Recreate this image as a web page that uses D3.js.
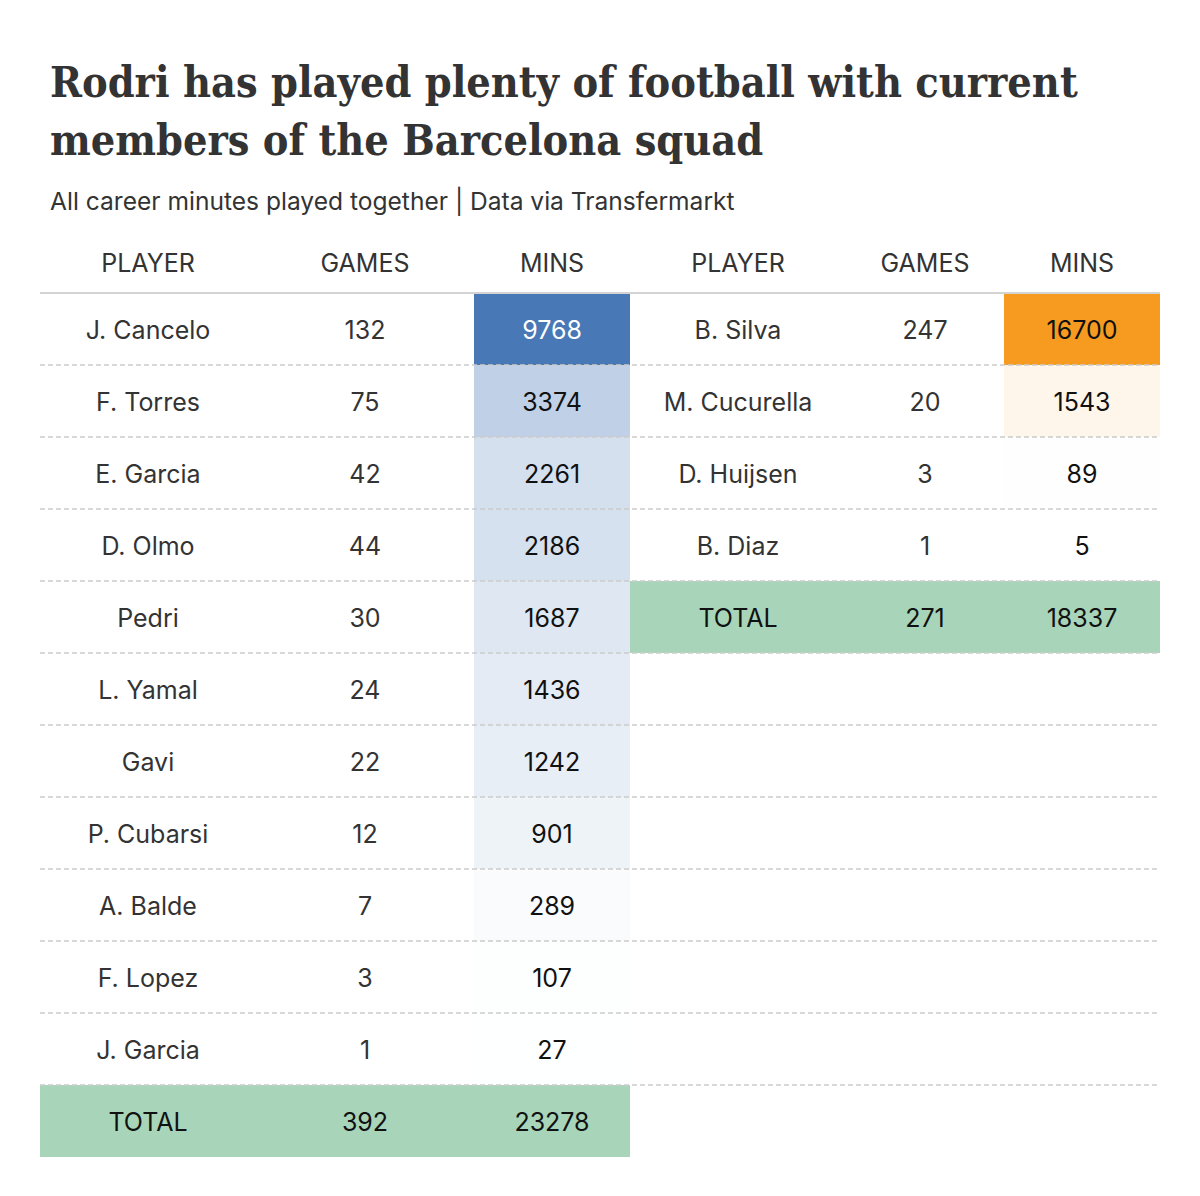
<!DOCTYPE html>
<html>
<head>
<meta charset="utf-8">
<script src="https://cdn.jsdelivr.net/npm/d3@7"></script>
<style>
  body { margin: 0; background: #fff; }
  svg { display: block; }
</style>
</head>
<body>
<div id="chart"></div>
<script>
  // left block (Barcelona players with Rodri at Atletico/Spain/City)
  const leftPlayers = ["J. Cancelo", "F. Torres", "E. Garcia", "D. Olmo", "Pedri", "L. Yamal", "Gavi", "P. Cubarsi", "A. Balde", "F. Lopez", "J. Garcia"];
  const leftGames = [132, 75, 42, 44, 30, 24, 22, 12, 7, 3, 1];
  const leftMins = [9768, 3374, 2261, 2186, 1687, 1436, 1242, 901, 289, 107, 27];

  // right block
  const rightPlayers = ["B. Silva", "M. Cucurella", "D. Huijsen", "B. Diaz"];
  const rightGames = [247, 20, 3, 1];
  const rightMins = [16700, 1543, 89, 5];

  const headers = ["PLAYER", "GAMES", "MINS", "PLAYER", "GAMES", "MINS"];

  const width = 1200;
  const height = 1196;
  const colEdges = [40, 256, 474, 630, 846, 1004, 1160];
  const tableTop = 293;
  const rowH = 72;
  const nRows = leftPlayers.length + 1;

  const font = "Inter, 'Noto Sans', sans-serif";
  const titleFont = "'DejaVu Serif Condensed', 'DejaVu Serif', serif";
  const totalFill = "#a8d5b9";

  const y = d3.scaleBand()
    .domain(d3.range(nRows))
    .range([tableTop, tableTop + nRows * rowH]);

  const leftColor = d3.scaleLinear()
    .domain([0, d3.max(leftMins)])
    .range(["#ffffff", "#4878b6"]);
  const rightColor = d3.scaleLinear()
    .domain([0, d3.max(rightMins)])
    .range(["#ffffff", "#f79b20"]);

  const leftRows = leftPlayers.map((p, i) => ({ player: p, games: leftGames[i], mins: leftMins[i] }));
  leftRows.push({ player: "TOTAL", games: d3.sum(leftGames), mins: d3.sum(leftMins), total: true });
  const rightRows = rightPlayers.map((p, i) => ({ player: p, games: rightGames[i], mins: rightMins[i] }));
  rightRows.push({ player: "TOTAL", games: d3.sum(rightGames), mins: d3.sum(rightMins), total: true });

  const svg = d3.select("#chart")
    .append("svg")
    .attr("width", width)
    .attr("height", height);

  // title
  const title = svg.append("g");
  const titleLines = ["Rodri has played plenty of football with current", "members of the Barcelona squad"];
  const t1 = title.append("text")
    .attr("x", 50).attr("y", 97)
    .attr("font-family", titleFont)
    .attr("font-stretch", "condensed")
    .attr("font-weight", "bold")
    .attr("font-size", 42)
    .attr("fill", "#333")
    .text(titleLines[0]);
  // fit the first line to the reference width
  const fs = 42 * 1028 / t1.node().getComputedTextLength();
  t1.attr("font-size", fs);
  title.append("text")
    .attr("x", 50).attr("y", 155)
    .attr("font-family", titleFont)
    .attr("font-stretch", "condensed")
    .attr("font-weight", "bold")
    .attr("font-size", fs)
    .attr("fill", "#333")
    .text(titleLines[1]);

  const sub = svg.append("text")
    .attr("x", 50).attr("y", 210)
    .attr("font-family", font)
    .attr("font-size", 24)
    .attr("fill", "#333")
    .text("All career minutes played together | Data via Transfermarkt");
  sub.attr("font-size", 24 * 685 / sub.node().getComputedTextLength());

  // headers
  svg.append("g")
    .selectAll("text")
    .data(headers)
    .join("text")
    .attr("x", (d, i) => (colEdges[i] + colEdges[i + 1]) / 2)
    .attr("y", 263)
    .attr("dominant-baseline", "central")
    .attr("text-anchor", "middle")
    .attr("font-family", font)
    .attr("font-size", 25)
    .attr("fill", "#333")
    .text(d => d);

  const fills = svg.append("g");
  const lines = svg.append("g");
  const cells = svg.append("g");

  function drawBlock(rows, c0, color, maxText) {
    const x0 = colEdges[c0], x3 = colEdges[c0 + 3];
    const last = rows.length - 1;

    // total row
    fills.append("rect")
      .attr("x", x0).attr("y", y(last))
      .attr("width", x3 - x0).attr("height", y.bandwidth())
      .attr("fill", totalFill);

    // heat cells for minutes
    fills.selectAll(null)
      .data(rows.filter(d => !d.total))
      .join("rect")
      .attr("x", colEdges[c0 + 2])
      .attr("y", (d, i) => y(i))
      .attr("width", colEdges[c0 + 3] - colEdges[c0 + 2])
      .attr("height", y.bandwidth())
      .attr("fill", d => color(d.mins));

    const maxMins = d3.max(rows.filter(r => !r.total), r => r.mins);

    const row = cells.selectAll(null)
      .data(rows)
      .join("g")
      .attr("transform", (d, i) => `translate(0,${y(i) + y.bandwidth() / 2 + 1})`);

    ["player", "games", "mins"].forEach((k, j) => {
      row.append("text")
        .attr("x", (colEdges[c0 + j] + colEdges[c0 + j + 1]) / 2)
        .attr("dominant-baseline", "central")
        .attr("text-anchor", "middle")
        .attr("font-family", font)
        .attr("font-size", 25)
        .attr("fill", d => {
          if (k === "mins" && !d.total && d.mins === maxMins) return maxText;
          if (d.total || k === "mins") return "#111";
          return "#333";
        })
        .text(d => d[k]);
    });
  }

  drawBlock(leftRows, 0, leftColor, "#fff");
  drawBlock(rightRows, 3, rightColor, "#111");

  // header rule
  lines.append("line")
    .attr("x1", colEdges[0]).attr("x2", colEdges[6])
    .attr("y1", tableTop).attr("y2", tableTop)
    .attr("stroke", "#d3d3d3")
    .attr("stroke-width", 2);

  // dashed row separators
  lines.selectAll("line.sep")
    .data(d3.range(1, nRows))
    .join("line")
    .attr("class", "sep")
    .attr("x1", colEdges[0]).attr("x2", colEdges[6])
    .attr("y1", d => y(d)).attr("y2", d => y(d))
    .attr("stroke", "#cccccc")
    .attr("stroke-width", 1.5)
    .attr("stroke-dasharray", "5,3");
</script>
</body>
</html>
